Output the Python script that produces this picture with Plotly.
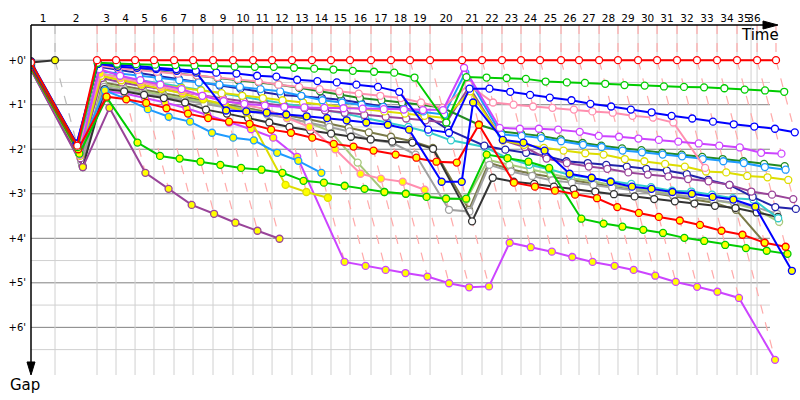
import plotly.graph_objects as go

# ---------------- data ----------------
# elapsed time (minutes) of the lap leader at the end of each lap (index = lap, 0 = start)
leader_times = [0.0, 2.07, 5.69, 7.33, 8.97, 10.60, 12.33, 13.97, 15.69, 17.41, 19.14,
                20.78, 22.50, 24.22, 25.86, 27.50, 29.31, 31.03, 32.67, 34.40, 37.16,
                38.88, 40.60, 42.24, 43.88, 45.69, 47.24, 48.97, 50.60, 52.33, 53.97,
                55.69, 57.41, 59.14, 60.86, 62.59, 64.22]
# lap marks (minutes) drawn as vertical grid lines
lap_marks = [2.07, 5.69, 7.33, 8.97, 10.60, 12.33, 13.97, 15.69, 17.41, 19.14,
             20.78, 22.50, 24.22, 25.86, 27.50, 29.31, 31.03, 32.67, 34.40, 37.16,
             38.88, 40.60, 42.24, 43.88, 45.69, 47.24, 48.97, 50.60, 52.33, 53.97,
             55.69, 57.41, 59.14, 60.86, 62.07, 62.59]
lap_labels = ["1", "2", "3", "4", "5", "6", "7", "8", "9", "10", "11", "12", "13", "14",
              "15", "16", "17", "18", "19", "20", "21", "22", "23", "24", "25", "26", "27",
              "28", "29", "30", "31", "32", "33", "34", "35", "36"]
gap_ticks = [0, 1, 2, 3, 4, 5, 6]
gap_labels = ["+0'", "+1'", "+2'", "+3'", "+4'", "+5'", "+6'"]
half_ticks = [0.5, 1.5, 2.5, 3.5, 4.5, 5.5, 6.5]

# gap to leader (minutes) per lap, starting at lap 0
red_w = [0.05, 1.92, 0, 0, 0, 0, 0, 0, 0, 0, 0, 0, 0, 0, 0, 0, 0, 0, 0, 0, 0, 0, 0, 0, 0,
         0, 0, 0, 0, 0, 0, 0, 0, 0, 0, 0, 0]
green_w = [0.07, 1.95, .06, .08, .09, .10, .11, .12, .13, .14, .15, .15, .17, .19, .21, .24,
           .26, .28, .39, 1.40, .38, .39, .40, .42, .48, .50, .51, .53, .56, .57, .59, .60,
           .61, .63, .66, .68, .71]
blue_w = [0.10, 1.88, .08, .10, .13, .17, .20, .24, .28, .30, .35, .37, .44, .47, .50, .55,
          .60, .71, 1.56, 1.63, .64, .64, .71, .78, .84, .90, .98, 1.04, 1.11, 1.17, 1.25,
          1.31, 1.38, 1.44, 1.49, 1.54, 1.62]
blue_y = [0.04, 1.87, .08, .15, .17, .20, .24, .28, 1.13, 1.15, 1.18, 1.22, 1.26, 1.30, 1.35,
          1.40, 1.45, 1.56, 2.73, 2.73, .95, 1.79, 1.85, 2.03, 2.55, 2.64, 2.73, 2.84, 2.89,
          2.96, 3.00, 3.07, 3.13, 3.29, 4.73]
red_y = [0.15, 2.00, .82, .88, .96, 1.08, 1.20, 1.30, 1.38, 1.43, 1.56, 1.63, 1.74, 1.88,
         1.94, 2.03, 2.12, 2.19, 2.28, 2.30, 1.45, 2.75, 2.84, 2.93, 3.02, 3.10, 3.30, 3.43,
         3.52, 3.60, 3.70, 3.83, 3.92, 4.10, 4.19]
green_y = [0.18, 2.10, .84, 1.85, 2.15, 2.21, 2.28, 2.35, 2.42, 2.46, 2.53, 2.71, 2.75, 2.82,
           2.89, 2.96, 3.00, 3.07, 3.11, 3.11, 2.12, 2.20, 2.28, 2.42, 3.56, 3.67, 3.74, 3.81,
           3.88, 3.99, 4.06, 4.15, 4.22, 4.28, 4.35]
pink_w = [0.08, 1.93, .12, .18, .22, .26, .30, .34, .38, .42, .48, .55, .60, .65, .70, .75,
          .80, .85, .95, 1.07, .55, .95, 1.00, 1.04, 1.07, 1.11, 1.15, 1.18, 1.25, 1.29, 1.40,
          2.42]
pink_y = [0.13, 2.02, .30, .40, .50, .60, .70, .80, .90, 1.00, 1.10, 1.30, 1.50, 2.00, 2.55,
          2.66, 2.73, 2.91]
violet_w = [0.14, 2.12, .20, .35, .45, .55, .65, .80, .92, .98, 1.02, 1.05, 1.06, 1.07, 1.08,
            1.09, 1.10, 1.11, 1.12, 1.12, .17, 1.52, 1.54, 1.54, 1.56, 1.61, 1.70, 1.72, 1.76,
            1.79, 1.83, 1.87, 1.92, 1.96, 2.08, 2.10]
violet_y = [0.20, 2.30, .70, .75, .85, .95, 1.08, 1.23, 1.40, 1.55, 1.74, 2.17, 4.53, 4.62,
            4.71, 4.78, 4.86, 5.01, 5.10, 5.08, 4.10, 4.20, 4.30, 4.42, 4.53, 4.62, 4.71, 4.84,
            4.98, 5.09, 5.20, 5.34, 6.73]
sky_w = [0.11, 2.00, .25, .30, .35, .40, .45, .50, .55, .60, .65, .70, .80, .90, .95, 1.00,
         1.05, 1.10, 1.15, 1.22, .28, 1.67, 1.70, 1.75, 1.82, 1.90, 1.95, 2.03, 2.07, 2.12,
         2.16, 2.22, 2.27, 2.31, 2.40, 2.46]
sky_y = [0.12, 2.05, .68, .87, 1.10, 1.27, 1.38, 1.63, 1.74, 1.80, 2.08, 2.26, 2.53]
dgreen_w = [0.09, 1.96, .10, .15, .20, .25, .30, .35, .40, .45, .50, .55, .62, .70, .77, .85,
            .90, .95, 1.00, 1.07, 1.45, 1.60, 1.65, 1.70, 1.78, 1.86, 1.92, 1.98, 2.02, 2.08,
            2.12, 2.17, 2.22, 2.27, 2.33, 2.38]
yellow_w = [0.16, 2.15, .35, .45, .50, .55, .62, .68, .74, .80, .85, .90, .95, 1.00, 1.05,
            1.10, 1.15, 1.20, 1.25, 1.30, .70, 1.80, 1.90, 1.97, 2.03, 2.09, 2.12, 2.22, 2.27,
            2.33, 2.39, 2.50, 2.52, 2.60, 2.63, 2.69]
yellow_y = [0.10, 2.08, .35, .45, .55, .65, .75, .88, 1.00, 1.18, 2.80, 2.96, 3.09]
plum_w = [0.17, 2.20, .40, .50, .58, .65, .72, .80, .86, .92, .98, 1.03, 1.08, 1.13, 1.18,
          1.23, 1.27, 1.31, 1.35, 1.40, .60, 1.80, 1.95, 2.21, 2.31, 2.39, 2.44, 2.52, 2.57,
          2.61, 2.67, 2.72, 2.80, 2.95, 3.02, 3.12]
plum_y = [0.22, 2.40, 1.07, 2.53, 2.89, 3.25, 3.45, 3.65, 3.83, 4.01]
navy_w = [0.06, 1.90, .15, .22, .28, .35, .42, .50, .57, .64, .72, .78, .81, .85, .89, .96,
          1.04, 1.06, 1.22, 1.56, 1.92, 2.01, 2.08, 2.15, 2.27, 2.31, 2.35, 2.39, 2.44, 2.48,
          2.56, 2.69, 2.80, 3.07, 3.30, 3.34]
teal_w = [0.15, 2.10, .30, .38, .45, .52, .60, .67, .75, .82, .90, .97, 1.05, 1.12, 1.20,
          1.30, 1.40, 1.50, 1.62, 1.80, 1.95, 2.20, 2.35, 2.45, 2.58, 2.65, 2.72, 2.78, 2.85,
          2.93, 2.95, 3.02, 3.10, 3.13, 3.55]
dgray_w = [0.02, 2.40, .65, .70, .78, .85, .95, 1.11, 1.20, 1.30, 1.40, 1.50, 1.58, 1.65,
           1.72, 1.78, 1.83, 1.85, 1.99, 3.62, 2.64, 2.73, 2.78, 2.84, 2.89, 2.95, 3.01, 3.06,
           3.12, 3.17, 3.22, 3.27, 3.32, 3.42, 3.52]
dgray_y = [0.05, 0.00]
gray_w = [0.20, 2.30, .60, .68, .75, .82, .90, .98, 1.06, 1.14, 1.22, 1.30, 1.40, 1.50, 1.60,
          1.79, 1.86, 2.12, 3.36, 3.40, 2.35, 2.50, 2.60, 2.70, 2.75, 2.80, 2.86, 2.92, 2.97,
          3.03, 3.08, 3.14, 3.20, 3.30, 3.45]
lolive_w = [0.19, 2.25, .55, .62, .70, .78, .86, .94, 1.02, 1.10, 1.20, 1.30, 1.40, 1.60,
            2.30, 2.96, 3.00, 3.05, 3.10, 3.13, 2.24, 2.35, 2.45, 2.55, 2.65, 2.72, 2.80, 2.87,
            2.94, 3.00, 3.07, 3.15, 3.22, 3.35, 3.63]
olive_w = [0.21, 2.35, .50, .58, .66, .74, .82, .90, .98, 1.06, 1.14, 1.22, 1.32, 1.42, 1.52,
           1.62, 1.72, 1.82, 1.97, 3.36, 2.30, 2.45, 2.55, 2.62, 2.70, 2.78, 2.85, 2.92, 2.98,
           3.05, 3.12, 3.20, 3.36, 4.10]

# ---------------- styles ----------------
series = [  # (gaps, line colour, marker fill) ; drawn bottom-up so the leader ends on top
    (violet_y, "#CC44FF", "#FFFF00"), (olive_w, "#7A7A48", "#FFFFFF"),
    (lolive_w, "#A6C87A", "#FFFFFF"), (gray_w, "#A0A0A0", "#FFFFFF"),
    (dgray_w, "#333333", "#FFFFFF"), (dgray_y, "#333333", "#FFFF00"),
    (teal_w, "#33CCCC", "#FFFFFF"), (navy_w, "#2222AA", "#FFFFFF"),
    (plum_y, "#994499", "#FFFF00"), (plum_w, "#994499", "#FFFFFF"),
    (yellow_y, "#DDDD00", "#FFFF00"), (yellow_w, "#DDDD00", "#FFFFFF"),
    (dgreen_w, "#228B22", "#FFFFFF"), (sky_y, "#1E9BFF", "#FFFF00"),
    (sky_w, "#1E9BFF", "#FFFFFF"), (pink_y, "#FF8FAF", "#FFFF00"),
    (pink_w, "#FF8FAF", "#FFFFFF"), (violet_w, "#CC44FF", "#FFFFFF"),
    (green_y, "#00CC00", "#FFFF00"), (red_y, "#FF0000", "#FFFF00"),
    (blue_y, "#0000FF", "#FFFF00"), (blue_w, "#0000FF", "#FFFFFF"),
    (green_w, "#00CC00", "#FFFFFF"), (red_w, "#FF0000", "#FFFFFF"),
]

Y_TOP, Y_BOT = -0.79, 7.07
X_MAX = 66.29
FONT = "DejaVu Sans"


def lap_points(gaps):
    xs, ys = [], []
    for k, g in enumerate(gaps):
        xs.append(0.0 if k == 0 else leader_times[k] + g)
        ys.append(g)
    return xs, ys


fig = go.Figure()

# same-lap connector lines (dashed)
pink_x, pink_y_ = [], []
grey_x, grey_y_ = [], []
for k in range(1, len(leader_times)):
    pts = []
    for gaps, _, _ in series:
        if k < len(gaps):
            pts.append((leader_times[k] + gaps[k], gaps[k]))
    pts.sort(key=lambda p: p[1])
    xs = [leader_times[k], leader_times[k]] + [p[0] for p in pts] + [None]
    ys = [Y_TOP, 0] + [p[1] for p in pts] + [None]
    if k == 1:
        grey_x += xs
        grey_y_ += ys
    else:
        pink_x += xs
        pink_y_ += ys
fig.add_trace(go.Scatter(x=grey_x, y=grey_y_, mode="lines", hoverinfo="skip",
                         line=dict(color="#BBBBBB", width=1.2, dash="dash")))
fig.add_trace(go.Scatter(x=pink_x, y=pink_y_, mode="lines", hoverinfo="skip",
                         line=dict(color="#FFAAAA", width=1.2, dash="dash")))

for gaps, col, fill in series:
    xs, ys = lap_points(gaps)
    fig.add_trace(go.Scatter(
        x=xs, y=ys, mode="lines+markers",
        line=dict(color=col, width=2),
        marker=dict(size=7, color=fill, line=dict(color=col, width=1.3)),
        hoverinfo="skip"))

shapes = []
# horizontal grid
for v in half_ticks:
    shapes.append(dict(type="line", xref="x", yref="y", x0=0, x1=63.7, y0=v, y1=v,
                       line=dict(color="#D0D0D0", width=1), layer="below"))
for v in gap_ticks:
    shapes.append(dict(type="line", xref="x", yref="y", x0=0, x1=63.7, y0=v, y1=v,
                       line=dict(color="#808080", width=1), layer="below"))
# vertical grid at lap marks
for t in lap_marks:
    shapes.append(dict(type="line", xref="x", yref="y", x0=t, x1=t, y0=Y_TOP, y1=Y_BOT,
                       line=dict(color="#D0D0D0", width=1), layer="below"))
# axes with arrows (paper coords)
W = 769.0
H = 350.0
shapes.append(dict(type="line", xref="paper", yref="paper", x0=0, x1=(766 - 31) / W,
                   y0=1, y1=1, line=dict(color="black", width=1.5)))
shapes.append(dict(type="path", xref="paper", yref="paper",
                   path="M %f,1 L %f,%f L %f,%f Z" % ((778 - 31) / W, (763 - 31) / W,
                                                     1 + 4 / H, (763 - 31) / W, 1 - 4 / H),
                   fillcolor="black", line=dict(color="black", width=1)))
shapes.append(dict(type="line", xref="paper", yref="paper", x0=0, x1=0,
                   y0=1, y1=(375 - 362) / H, line=dict(color="black", width=1.5)))
shapes.append(dict(type="path", xref="paper", yref="paper",
                   path="M 0,0 L %f,%f L %f,%f Z" % (-4 / W, 13 / H, 4 / W, 13 / H),
                   fillcolor="black", line=dict(color="black", width=1)))

label_pos = []
prev = 0.0
for t in lap_marks:
    label_pos.append((prev + t) / 2)
    prev = t

fig.update_layout(
    width=800, height=400,
    margin=dict(l=31, r=0, t=25, b=25, autoexpand=False),
    paper_bgcolor="white", plot_bgcolor="white",
    showlegend=False,
    font=dict(family=FONT, size=10, color="black"),
    shapes=shapes,
    xaxis=dict(range=[0, X_MAX], side="top", tickvals=label_pos, ticktext=lap_labels,
               showgrid=False, zeroline=False, showline=False, ticks="",
               tickangle=0, automargin=False,
               tickfont=dict(family=FONT, size=10.5, color="black")),
    yaxis=dict(range=[Y_BOT, Y_TOP], tickvals=gap_ticks, ticktext=gap_labels,
               showgrid=False, zeroline=False, showline=False, ticks="",
               ticklabelstandoff=4, automargin=False,
               tickfont=dict(family=FONT, size=10, color="black")),
    annotations=[
        dict(text="Time", xref="paper", yref="paper", x=(760 - 31) / W, y=(375 - 35) / H,
             xanchor="center", yanchor="middle", showarrow=False,
             font=dict(family=FONT, size=15, color="black")),
        dict(text="Gap", xref="paper", yref="paper", x=(25 - 31) / W, y=(375 - 385) / H,
             xanchor="center", yanchor="middle", showarrow=False,
             font=dict(family=FONT, size=15, color="black")),
    ],
)

fig.write_html("out.html", config={"displayModeBar": False},
               post_script="document.body.style.margin='0';document.body.style.overflow='hidden';")
